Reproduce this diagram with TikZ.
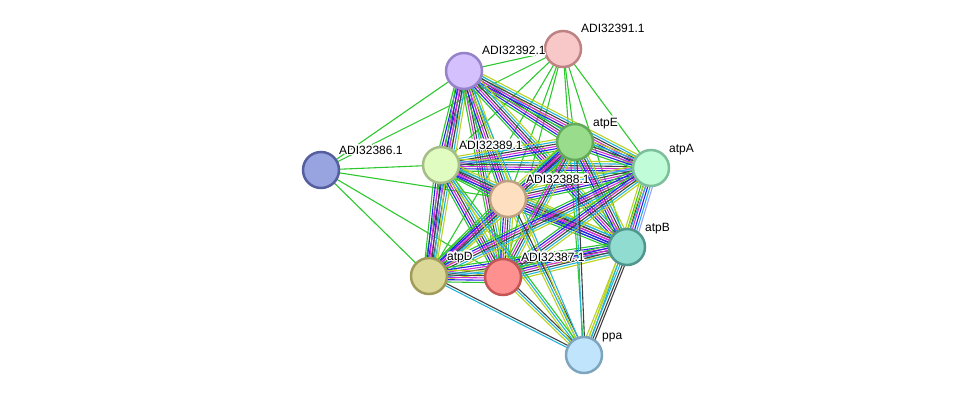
\documentclass[tikz,border=0pt]{standalone}
\usepackage{fontspec}
\setmainfont{Liberation Sans}
\usepackage[copies]{contour}
\contourlength{1.3pt}
\usetikzlibrary{calc, backgrounds}

% evidence colours
\definecolor{nbhd}{RGB}{45,200,45}
\definecolor{cooc}{RGB}{35,35,235}
\definecolor{coex}{RGB}{65,65,65}
\definecolor{expt}{RGB}{215,45,215}
\definecolor{dbase}{RGB}{35,180,220}
\definecolor{tmine}{RGB}{185,210,35}
\definecolor{homol}{RGB}{160,160,250}

\tikzset{
  prot/.style={circle, line width=2.5pt, minimum size=36pt, inner sep=0pt},
  plabel/.style={anchor=base west, inner sep=0pt, font=\fontsize{12}{14}\selectfont},
  link/.style={line width=1.1pt},
}

% bundle of parallel links between two proteins
\newcommand{\bundle}[3]{%
  \foreach \c [count=\i] in {#3} {\xdef\bundlen{\i}}%
  \foreach \c [count=\i] in {#3} {%
    \pgfmathsetmacro{\off}{(\i-(\bundlen+1)/2)*2.3}%
    \draw[link, \c] ($(#1.center)!\off pt!90:(#2.center)$) -- ($(#2.center)!\off pt!-90:(#1.center)$);
  }%
}

\begin{document}
\begin{tikzpicture}[x=1pt, y=-1pt]
\useasboundingbox (0,0) rectangle (976,401);

% Proteins
\node[prot, fill={rgb,255:red,248;green,200;blue,200}, draw={rgb,255:red,190;green,130;blue,130}] (n91) at (563,49) {};
\node[prot, fill={rgb,255:red,212;green,192;blue,252}, draw={rgb,255:red,150;green,130;blue,200}] (n92) at (464,71) {};
\node[prot, fill={rgb,255:red,152;green,220;blue,140}, draw={rgb,255:red,100;green,170;blue,90}] (atpE) at (575,142) {};
\node[prot, fill={rgb,255:red,192;green,252;blue,216}, draw={rgb,255:red,125;green,190;blue,155}] (atpA) at (651,168) {};
\node[prot, fill={rgb,255:red,152;green,164;blue,224}, draw={rgb,255:red,85;green,95;blue,160}] (n86) at (321,170) {};
\node[prot, fill={rgb,255:red,224;green,252;blue,192}, draw={rgb,255:red,165;green,190;blue,135}] (n89) at (441,165) {};
\node[prot, fill={rgb,255:red,254;green,224;blue,192}, draw={rgb,255:red,190;green,160;blue,130}] (n88) at (508,199) {};
\node[prot, fill={rgb,255:red,144;green,220;blue,208}, draw={rgb,255:red,80;green,150;blue,140}] (atpB) at (627,247) {};
\node[prot, fill={rgb,255:red,220;green,216;blue,152}, draw={rgb,255:red,160;green,155;blue,90}] (atpD) at (429,276) {};
\node[prot, fill={rgb,255:red,255;green,144;blue,144}, draw={rgb,255:red,195;green,85;blue,85}] (n87) at (503,277) {};
\node[prot, fill={rgb,255:red,192;green,228;blue,252}, draw={rgb,255:red,125;green,165;blue,190}] (ppa) at (584,355) {};

% Labels
\node[plabel] (n91l) at ($(n91.center)+(18,-16)$) {\contour{white}{ADI32391.1}};
\node[plabel] (n92l) at ($(n92.center)+(18,-16)$) {\contour{white}{ADI32392.1}};
\node[plabel] (atpEl) at ($(atpE.center)+(18,-16)$) {\contour{white}{atpE}};
\node[plabel] (atpAl) at ($(atpA.center)+(18,-16)$) {\contour{white}{atpA}};
\node[plabel] (n86l) at ($(n86.center)+(18,-16)$) {\contour{white}{ADI32386.1}};
\node[plabel] (n89l) at ($(n89.center)+(18,-16)$) {\contour{white}{ADI32389.1}};
\node[plabel] (n88l) at ($(n88.center)+(18,-16)$) {\contour{white}{ADI32388.1}};
\node[plabel] (atpBl) at ($(atpB.center)+(18,-16)$) {\contour{white}{atpB}};
\node[plabel] (atpDl) at ($(atpD.center)+(18,-16)$) {\contour{white}{atpD}};
\node[plabel] (n87l) at ($(n87.center)+(18,-16)$) {\contour{white}{ADI32387.1}};
\node[plabel] (ppal) at ($(ppa.center)+(18,-16)$) {\contour{white}{ppa}};

\begin{pgfonlayer}{background}
% Neighbourhood-only links
\foreach \t in {n92,n86,n89,n88,atpE,atpA,atpB,atpD,n87,ppa}
  \bundle{n91}{\t}{nbhd};
\foreach \t in {n92,n89,n88,atpD,n87}
  \bundle{n86}{\t}{nbhd};

% ATP synthase core
\bundle{n92}{n89}{nbhd,cooc,expt,coex,dbase,tmine}
\bundle{n92}{atpD}{nbhd,cooc,expt,coex,dbase,tmine}
\bundle{n92}{n87}{nbhd,expt,coex,dbase,tmine}
\bundle{n92}{n88}{nbhd,cooc,expt,coex,dbase,tmine}
\bundle{n92}{atpE}{nbhd,cooc,expt,coex,dbase,tmine}
\bundle{n92}{atpA}{nbhd,cooc,expt,coex,dbase,tmine}
\bundle{n92}{atpB}{nbhd,cooc,expt,coex,dbase,tmine}
\bundle{n89}{n88}{nbhd,cooc,expt,coex,dbase,tmine}
\bundle{n89}{atpE}{nbhd,cooc,expt,coex,dbase,tmine}
\bundle{n89}{atpA}{nbhd,cooc,expt,coex,dbase,tmine}
\bundle{n89}{atpB}{nbhd,cooc,expt,coex,dbase,tmine}
\bundle{n89}{atpD}{nbhd,cooc,expt,coex,dbase,tmine}
\bundle{n89}{n87}{nbhd,cooc,expt,coex,dbase,tmine}
\bundle{n88}{atpE}{nbhd,cooc,expt,coex,dbase,tmine}
\bundle{n88}{atpA}{nbhd,cooc,expt,coex,dbase,tmine}
\bundle{n88}{atpB}{nbhd,cooc,cooc,expt,coex,dbase,tmine}
\bundle{n88}{atpD}{nbhd,cooc,expt,coex,dbase,tmine}
\bundle{n88}{n87}{nbhd,cooc,expt,coex,dbase,tmine}
\bundle{atpE}{atpA}{nbhd,cooc,expt,coex,dbase,tmine}
\bundle{atpE}{atpB}{nbhd,cooc,expt,coex,dbase,tmine}
\bundle{atpE}{atpD}{nbhd,cooc,expt,coex,dbase,tmine}
\bundle{atpE}{n87}{nbhd,expt,coex,dbase,tmine}
\bundle{atpA}{atpB}{tmine,nbhd,coex,expt,cooc,dbase,homol}
\bundle{atpA}{atpD}{nbhd,cooc,expt,coex,dbase,tmine}
\bundle{atpA}{n87}{nbhd,cooc,expt,coex,dbase,tmine}
\bundle{atpB}{atpD}{nbhd,cooc,expt,coex,dbase,tmine}
\bundle{atpB}{n87}{nbhd,cooc,expt,coex,dbase,tmine}
\bundle{atpD}{n87}{nbhd,cooc,expt,coex,dbase,tmine}

% Pyrophosphatase
\bundle{ppa}{atpB}{coex,coex,dbase,tmine,tmine}
\bundle{ppa}{atpD}{coex,dbase}
\bundle{ppa}{n87}{coex,dbase,tmine}
\bundle{ppa}{n88}{coex,dbase,tmine}
\bundle{ppa}{atpE}{coex,dbase}
\bundle{ppa}{atpA}{dbase,tmine}
\bundle{ppa}{n89}{nbhd,dbase,tmine}
\bundle{ppa}{n92}{dbase,tmine}
\end{pgfonlayer}
\end{tikzpicture}
\end{document}
